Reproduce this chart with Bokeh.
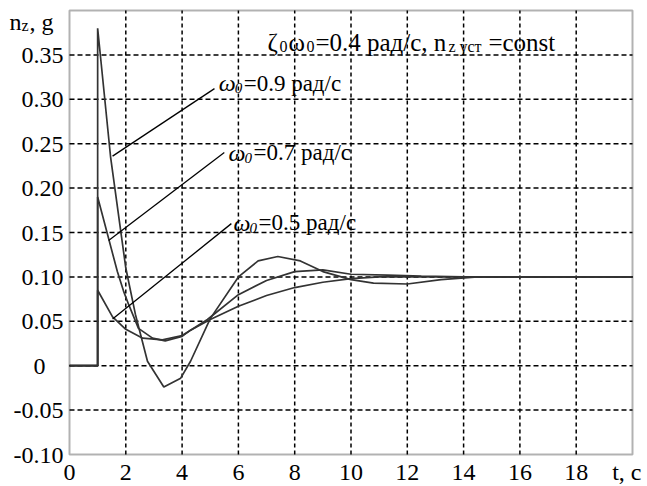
from bokeh.plotting import figure
from bokeh.models import Range1d, FixedTicker, NumeralTickFormatter, Label, BoxAnnotation
from bokeh.embed import file_html
from bokeh.resources import INLINE

# ---- data ----
t_w09 = [0, 1, 1, 1.46, 2.0, 2.34, 2.77, 3.35, 3.95, 4.3, 5.0, 6.0, 6.7, 7.4, 8.2, 9.0, 10.0, 10.8, 12.0, 13.2, 14.5, 16, 18, 20]
n_w09 = [0, 0, 0.38, 0.235, 0.11, 0.058, 0.005, -0.024, -0.014, 0.005, 0.053, 0.100, 0.118, 0.123, 0.118, 0.106, 0.097, 0.093, 0.092, 0.097, 0.100, 0.100, 0.100, 0.100]

t_w07 = [0, 1, 1, 1.7, 1.92, 2.1, 2.45, 2.95, 3.4, 4.0, 4.3, 4.9, 6.0, 7.0, 8.0, 9.0, 10.0, 11.3, 12.5, 14, 16, 18, 20]
n_w07 = [0, 0, 0.19, 0.106, 0.084, 0.069, 0.042, 0.031, 0.028, 0.033, 0.040, 0.052, 0.080, 0.096, 0.106, 0.108, 0.103, 0.102, 0.101, 0.100, 0.100, 0.100, 0.100]

t_w05 = [0, 1, 1, 1.53, 2.0, 2.6, 3.3, 4.0, 4.3, 5.0, 6.0, 7.0, 8.0, 9.0, 10.0, 11.0, 12, 14, 16, 18, 20]
n_w05 = [0, 0, 0.085, 0.055, 0.041, 0.031, 0.029, 0.034, 0.040, 0.052, 0.067, 0.079, 0.088, 0.094, 0.098, 0.100, 0.100, 0.100, 0.100, 0.100, 0.100]

x_ticks = [0, 2, 4, 6, 8, 10, 12, 14, 16, 18, 20]
y_ticks = [-0.10, -0.05, 0, 0.05, 0.10, 0.15, 0.20, 0.25, 0.30, 0.35]
x_lo, x_hi = 0, 20
y_lo, y_hi = -0.10, 0.40

# leader lines (annotation): x0, y0, x1, y1
lead_x0 = [1.53, 1.39, 1.53]
lead_y0 = [0.236, 0.141, 0.0525]
lead_x1 = [5.15, 5.50, 5.75]
lead_y1 = [0.312, 0.240, 0.160]
lead_labels = ["=0.9 рад/с", "=0.7 рад/с", "=0.5 рад/с"]
lead_text_x = [5.30, 5.65, 5.83]
lead_text_y = [0.318, 0.240, 0.161]

FONT = "'Liberation Serif', 'Times New Roman', serif"
CURVE = "#333333"

# plot area occupies pixels 69..632 (x) and 10..454 (y) of a 647x486 canvas
W, H = 647, 486
L, R, T, B = 69, 632, 10, 454
sx = (x_hi - x_lo) / (R - L)
sy = (y_hi - y_lo) / (B - T)

p = figure(width=W, height=H, output_backend="svg", toolbar_location=None,
           x_range=Range1d(x_lo - L * sx, x_hi + (W - R) * sx),
           y_range=Range1d(y_lo - (H - B) * sy, y_hi + T * sy),
           min_border=0, min_border_left=0, min_border_right=0,
           min_border_top=0, min_border_bottom=0)
p.background_fill_color = "white"
p.border_fill_color = "white"
p.outline_line_color = None
p.grid.visible = False

# axes, fixed onto the plot-area edges
p.xaxis.fixed_location = y_lo
p.yaxis.fixed_location = x_lo
p.xaxis.ticker = FixedTicker(ticks=x_ticks)
p.yaxis.ticker = FixedTicker(ticks=y_ticks)
p.xaxis.major_label_overrides = {20: "t, c\u00a0"}
p.yaxis.formatter = NumeralTickFormatter(format="0.00")
p.yaxis.major_label_overrides = {0: "0\u00a0\u00a0\u00a0"}
for ax in (p.xaxis, p.yaxis):
    ax.axis_line_color = None
    ax.major_tick_line_color = None
    ax.minor_tick_line_color = None
    ax.major_tick_out = 0
    ax.major_tick_in = 0
    ax.minor_tick_out = 0
    ax.major_label_text_font = FONT
    ax.major_label_text_color = "black"
    ax.major_label_text_font_size = "24px"
p.xaxis.major_label_standoff = 4
p.yaxis.major_label_standoff = 6

# dashed grid
gx = x_ticks[1:-1]
p.segment(gx, [y_lo] * len(gx), gx, [y_hi] * len(gx),
          line_color="black", line_width=1.5, line_dash="4 3")
gy = y_ticks[1:]
p.segment([x_lo] * len(gy), gy, [x_hi] * len(gy), gy,
          line_color="black", line_width=1.5, line_dash="5 3")

# frame
p.add_layout(BoxAnnotation(left=x_lo, right=x_hi, bottom=y_lo, top=y_hi,
                           fill_color=None, line_color="black", line_width=2))

# curves
for tt, nn in ((t_w05, n_w05), (t_w07, n_w07), (t_w09, n_w09)):
    p.line(tt, nn, line_color=CURVE, line_width=1.7)

# leader lines
p.segment(lead_x0, lead_y0, lead_x1, lead_y1, line_color="black", line_width=1.3)


def txt(x, y, text, size, style="normal", dx=0, dy=0):
    p.add_layout(Label(x=x, y=y, text=text, x_offset=dx, y_offset=dy,
                       text_font=FONT, text_font_size=f"{size}px", text_font_style=style,
                       text_color="black", text_baseline="alphabetic", text_align="left"))


for lx, ly, lab in zip(lead_text_x, lead_text_y, lead_labels):
    txt(lx, ly, "\u03c9", 24, "italic")
    txt(lx, ly, "0", 15, "italic", dx=16, dy=-5)
    txt(lx, ly, lab, 23, dx=25)

# header text
hx, hy = 7.03, 0.364
txt(hx, hy, "\u03b6", 25)
txt(hx, hy, "0", 16, dx=12, dy=-4)
txt(hx, hy, "\u03c9", 25, dx=21)
txt(hx, hy, "0", 16, dx=39, dy=-4)
txt(hx, hy, "=0.4 рад/с, n", 25, dx=48)
txt(hx, hy, "z уст", 16, dx=181, dy=-4)
txt(hx, hy, "=const", 25, dx=221)

# y-axis title
txt(-2.13, 0.3865, "n", 24)
txt(-2.13, 0.3865, "z", 16, dx=12, dy=-3)
txt(-2.13, 0.3865, ", g", 24, dx=20)

open("out.html", "w").write(file_html(p, INLINE))
